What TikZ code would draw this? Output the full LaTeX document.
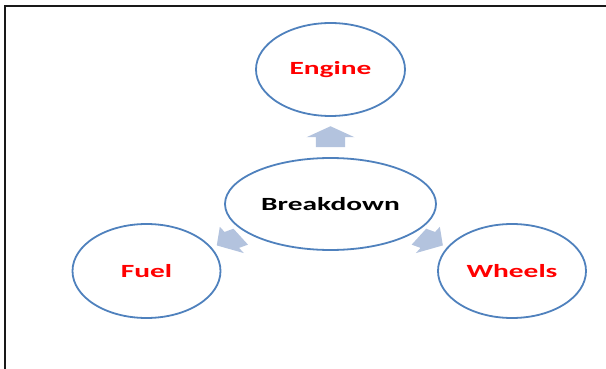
\documentclass[tikz,border=0pt]{standalone}
\usepackage{graphicx}
\usepackage{fontspec}
\setmainfont{Carlito}
\usetikzlibrary{shapes.geometric,calc,backgrounds}
\definecolor{ringblue}{HTML}{4F81BD}
\definecolor{arrowfill}{HTML}{B3C3DE}
\definecolor{redtext}{HTML}{FF0000}
\newcommand\widetext[1]{\scalebox{1.58}[1]{#1}}
% block arrow pointing along +x; #1 is where its tail ends
\newcommand\blockarrowpath[1]{(#1,-9.2) -- (-0.5,-9.2) -- (-0.5,-15.2) -- (10.5,0)
  -- (-0.5,15.2) -- (-0.5,9.2) -- (#1,9.2) -- cycle}
\begin{document}
\begin{tikzpicture}[x=1pt,y=1pt,
  bubble/.style={ellipse, draw=ringblue, line width=1.8pt, fill=white,
    inner sep=0pt, minimum width=148pt, minimum height=94pt,
    font=\fontsize{18.6}{22}\selectfont\bfseries, text=redtext},
  hub/.style={bubble, minimum width=211pt, minimum height=92pt, text=black},
  blockarrow/.style={fill=arrowfill, draw=none}]
\useasboundingbox (0,0) rectangle (606,-369);

% page frame
\draw[line width=2pt, black!90] (5,-369) -- (5,-6) -- (606,-6);

% hub and satellites
\node[hub]    (bd)     at (330.5,-204)   {\widetext{Breakdown}};
\node[bubble, minimum width=149pt, minimum height=93pt]
              (eng)    at (330.5,-69.5)  {\widetext{Engine}};
\node[bubble] (fuel)   at (146.5,-271)   {\widetext{Fuel}};
\node[bubble] (wheels) at (512,-271)     {\widetext{Wheels}};

% block arrows pointing from the hub outwards (drawn upright, then widened),
% kept behind the bubbles
\begin{pgfonlayer}{background}
\begin{scope}[shift={($(bd)!0.5!(eng)$)}, xscale=1.58, rotate=90]
  \fill[blockarrow] \blockarrowpath{-10.5};
\end{scope}
\begin{scope}[shift={($(bd)!0.54!(fuel)$)}, xscale=1.58, rotate=210]
  \fill[blockarrow] \blockarrowpath{-7};
\end{scope}
\begin{scope}[shift={($(bd)!0.54!(wheels)$)}, xscale=1.58, rotate=-30]
  \fill[blockarrow] \blockarrowpath{-7};
\end{scope}
\end{pgfonlayer}
\end{tikzpicture}
\end{document}
